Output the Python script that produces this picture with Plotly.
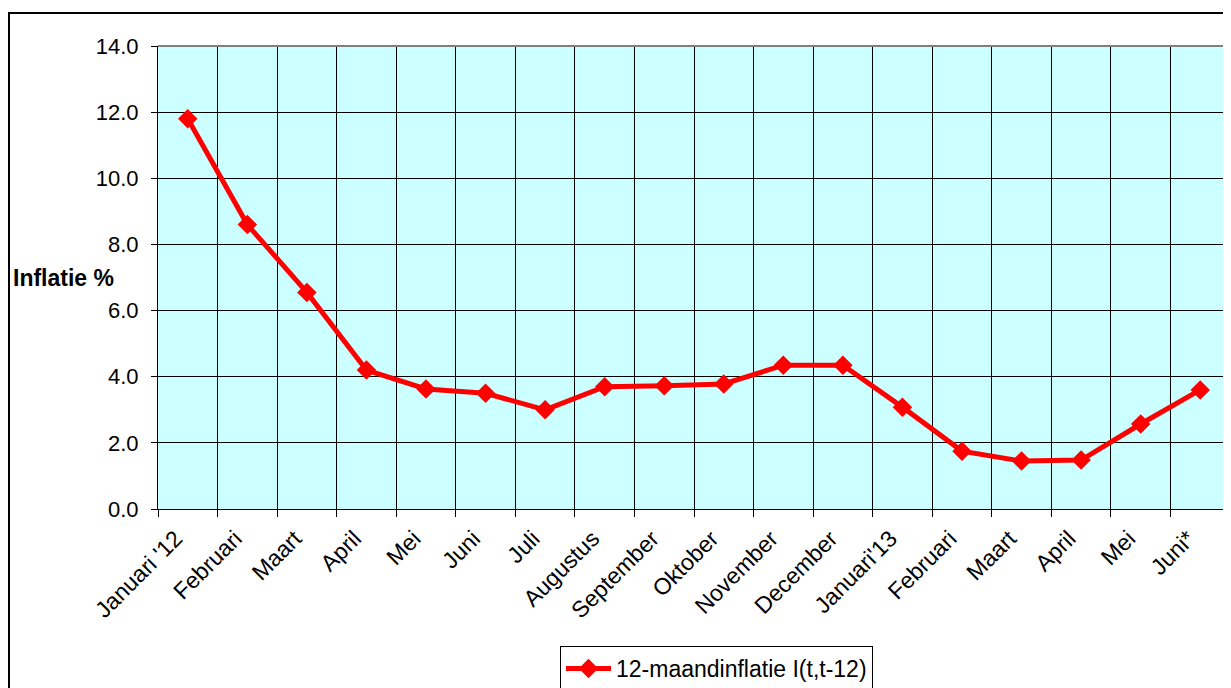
import plotly.graph_objects as go

months = ["Januari '12", "Februari", "Maart", "April", "Mei", "Juni", "Juli",
          "Augustus", "September", "Oktober", "November", "December",
          "Januari'13", "Februari", "Maart", "April", "Mei", "Juni*"]
inflation = [11.8, 8.6, 6.55, 4.2, 3.63, 3.5, 3.0, 3.7, 3.73, 3.78,
             4.35, 4.35, 3.08, 1.75, 1.45, 1.48, 2.57, 3.6]
y_ticks = [0, 2, 4, 6, 8, 10, 12, 14]
series_name = "12-maandinflatie I(t,t-12)"

x_pos = list(range(len(months)))
FONT = "Liberation Sans, Arial, sans-serif"

fig = go.Figure()
fig.add_trace(go.Scatter(
    x=x_pos, y=inflation, mode="lines+markers", name=series_name,
    line=dict(color="#FF0000", width=5),
    marker=dict(symbol="diamond", size=15, color="#FF0000"),
    showlegend=True,
))

# page body has an 8px margin, so the figure is laid out 8px smaller/shifted
fig.update_layout(
    width=1223, height=680,
    margin=dict(l=150, r=1, t=38, b=179, autoexpand=False),
    paper_bgcolor="white", plot_bgcolor="#CCFFFF",
    font=dict(family=FONT, size=23, color="black"),
    showlegend=True,
    legend=dict(x=0.375, y=-0.296, xanchor="left", yanchor="top",
                bordercolor="black", borderwidth=1, bgcolor="white",
                font=dict(size=23), itemwidth=45),
    xaxis=dict(
        range=[-0.5, len(months) - 0.5],
        tickmode="array", tickvals=x_pos, ticktext=months,
        tickangle=-45, ticks="", showgrid=False, zeroline=False,
        showline=True, linecolor="black", linewidth=1,
        ticklabelstandoff=6, ticklabelshift=-12,
        tickfont=dict(size=23), automargin=False,
        minor=dict(tickmode="linear", tick0=-0.5, dtick=1, showgrid=True,
                   gridcolor="black", gridwidth=1, ticks="outside",
                   ticklen=7, tickcolor="black"),
    ),
    yaxis=dict(
        range=[0, 14], tickmode="array", tickvals=y_ticks,
        ticktext=[f"{v:.1f}" for v in y_ticks],
        ticks="outside", ticklen=6, tickcolor="black",
        showgrid=True, gridcolor="black", gridwidth=1, zeroline=False,
        showline=True, linecolor="black", linewidth=1,
        ticklabelstandoff=8, tickfont=dict(size=22), automargin=False,
    ),
    shapes=[
        dict(type="rect", xref="paper", yref="paper",
             x0=-0.139, x1=1.02, y0=-0.45, y1=1.0713,
             line=dict(color="black", width=2), fillcolor="rgba(0,0,0,0)"),
        dict(type="line", xref="paper", yref="paper", x0=0, x1=1, y0=1, y1=1,
             line=dict(color="#808080", width=2)),
        dict(type="line", xref="paper", yref="paper", x0=1, x1=1, y0=0, y1=1,
             line=dict(color="#808080", width=2)),
    ],
    annotations=[
        dict(text="<b>Inflatie %</b>", xref="paper", yref="paper",
             x=-0.1375, y=0.499, xanchor="left", yanchor="middle",
             showarrow=False, font=dict(size=23, family=FONT)),
    ],
)

fig.write_html("out.html")
